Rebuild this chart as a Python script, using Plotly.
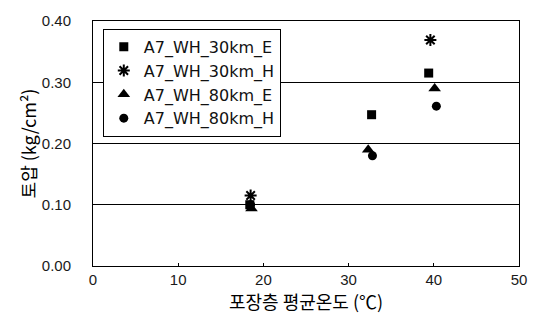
import plotly.graph_objects as go

# Average pavement-layer temperature (°C) and earth pressure (kg/cm²)
temp_30E = [18.4, 32.7, 39.4]
pres_30E = [0.100, 0.247, 0.315]
temp_30H = [18.5, 39.6]
pres_30H = [0.115, 0.369]
temp_80E = [18.6, 32.3, 40.1]
pres_80E = [0.094, 0.190, 0.290]
temp_80H = [18.5, 32.8, 40.3]
pres_80H = [0.100, 0.180, 0.261]

series_names = ["A7_WH_30km_E", "A7_WH_30km_H", "A7_WH_80km_E", "A7_WH_80km_H"]

x_ticks = [0, 10, 20, 30, 40, 50]
y_ticks = [0.0, 0.1, 0.2, 0.3, 0.4]
y_tick_text = ["0.00", "0.10", "0.20", "0.30", "0.40"]

FONT = "Liberation Sans, Arial, sans-serif"
LEGEND_FONT = "DejaVu Sans, sans-serif"
KR_FONT = "Noto Sans CJK KR, Liberation Sans, sans-serif"

fig = go.Figure()
fig.add_trace(go.Scatter(
    x=temp_30E, y=pres_30E, mode="markers", name=series_names[0],
    marker=dict(symbol="square", size=9, color="black"),
))
fig.add_trace(go.Scatter(
    x=temp_30H, y=pres_30H, mode="markers", name=series_names[1],
    marker=dict(symbol="asterisk-open", size=10, color="black",
                line=dict(width=2, color="black")),
))
fig.add_trace(go.Scatter(
    x=temp_80E, y=pres_80E, mode="markers", name=series_names[2],
    marker=dict(symbol="triangle-up", size=11, color="black"),
))
fig.add_trace(go.Scatter(
    x=temp_80H, y=pres_80H, mode="markers", name=series_names[3],
    marker=dict(symbol="circle", size=9, color="black"),
))

fig.update_layout(
    width=539, height=325,
    margin=dict(l=93, r=14, t=15, b=59),
    paper_bgcolor="white", plot_bgcolor="white",
    font=dict(family=FONT, size=14, color="#1a1a1a"),
    showlegend=True,
    legend=dict(
        x=0.023, y=0.968, xanchor="left", yanchor="top",
        bordercolor="black", borderwidth=1, bgcolor="white",
        font=dict(family=LEGEND_FONT, size=16, color="#111"),
        itemwidth=30, tracegroupgap=0,
    ),
)
fig.update_xaxes(
    range=[0, 50], tickvals=x_ticks, ticks="inside", ticklen=3,
    tickcolor="black", showline=True, linecolor="black", linewidth=1,
    mirror=True, showgrid=False, zeroline=False,
    tickfont=dict(size=15),
    title=dict(text="포장층 평균온도 (℃)",
               font=dict(family=KR_FONT, size=18, color="#000"), standoff=2),
)
# transparent outside ticks push the y labels away from the frame
fig.update_yaxes(
    range=[0, 0.4], tickvals=y_ticks, ticktext=y_tick_text, ticks="outside",
    ticklen=18, tickcolor="rgba(0,0,0,0)", showline=True, linecolor="black",
    linewidth=1, mirror=True, showgrid=True, gridcolor="black",
    gridwidth=1, zeroline=False, tickfont=dict(size=15),
    title=dict(text="토압 (kg/cm²)",
               font=dict(family=KR_FONT, size=18, color="#000"), standoff=0),
)

fig.write_html("out.html")
